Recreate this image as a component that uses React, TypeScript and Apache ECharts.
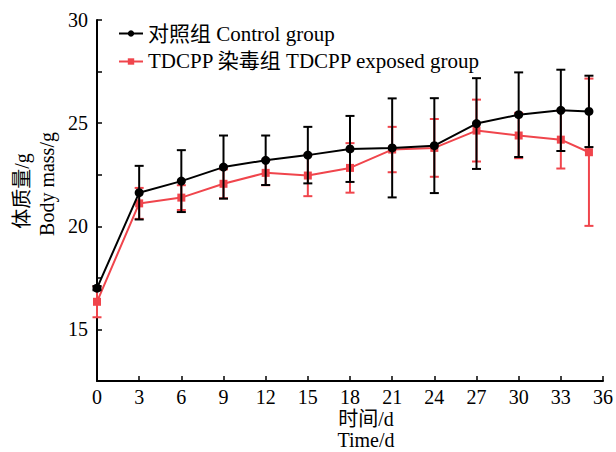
import React, { useEffect, useRef } from "react";
import * as echarts from "echarts";

const days = [0, 3, 6, 9, 12, 15, 18, 21, 24, 27, 30, 33, 35];
const controlMean = [17.0, 21.63, 22.19, 22.87, 23.2, 23.45, 23.75, 23.8, 23.91, 24.98, 25.41, 25.62, 25.57];
const controlSd = [0.1, 1.3, 1.5, 1.53, 1.2, 1.37, 1.6, 2.4, 2.3, 2.2, 2.05, 1.97, 1.73];
const exposedMean = [16.34, 21.11, 21.39, 22.06, 22.59, 22.46, 22.83, 23.72, 23.8, 24.64, 24.4, 24.2, 23.59];
const exposedSd = [0.75, 0.75, 0.6, 0.7, 0.6, 1.0, 1.2, 1.1, 1.4, 1.5, 1.1, 1.4, 3.57];
const xTicks = { min: 0, max: 36, interval: 3 };
const yTicks = { min: 12.5, max: 30, interval: 2.5 };

const BLACK = "#000000";
const RED = "#f0454c";
const FONT = "'Liberation Serif', 'Times New Roman', 'Noto Sans CJK SC', serif";

function errData(mean: number[], sd: number[]) {
  return days.map((d, i) => [d, mean[i] - sd[i], mean[i] + sd[i]]);
}

function errSeries(name: string, mean: number[], sd: number[], color: string, z: number) {
  return {
    type: "custom",
    name: name + "-err",
    z,
    silent: true,
    data: errData(mean, sd),
    encode: { x: 0, y: [1, 2] },
    renderItem: (params: any, api: any) => {
      const x = api.value(0);
      const lo = api.coord([x, api.value(1)]);
      const hi = api.coord([x, api.value(2)]);
      const hw = 4.5;
      const style = { stroke: color, lineWidth: 2 };
      return {
        type: "group",
        children: [
          { type: "line", shape: { x1: lo[0], y1: lo[1], x2: hi[0], y2: hi[1] }, style },
          { type: "line", shape: { x1: lo[0] - hw, y1: lo[1], x2: lo[0] + hw, y2: lo[1] }, style },
          { type: "line", shape: { x1: hi[0] - hw, y1: hi[1], x2: hi[0] + hw, y2: hi[1] }, style },
        ],
      };
    },
  };
}

function txt(text: string, x: number, y: number, rotation = 0) {
  return {
    type: "text",
    x,
    y,
    rotation,
    style: {
      text,
      fontFamily: FONT,
      fontSize: 20,
      fill: "#000",
      align: "center",
      verticalAlign: "middle",
    },
  };
}

export default function App() {
  const ref = useRef<HTMLDivElement>(null);
  useEffect(() => {
    if (!ref.current) return;
    const chart = echarts.init(ref.current, undefined, { renderer: "svg" });
    const controlName = "对照组 Control group";
    const exposedName = "TDCPP 染毒组 TDCPP exposed group";
    chart.setOption({
      animation: false,
      backgroundColor: "#ffffff",
      textStyle: { fontFamily: FONT },
      grid: { left: 97, right: 12, top: 20, bottom: 71 },
      legend: {
        orient: "vertical",
        left: 113,
        top: 18,
        itemGap: 7,
        itemWidth: 24,
        itemHeight: 8,
        data: [controlName, exposedName],
        textStyle: { fontFamily: FONT, fontSize: 21, color: "#000", padding: [0, 0, 0, 0] },
      },
      xAxis: {
        type: "value",
        min: xTicks.min,
        max: xTicks.max,
        interval: xTicks.interval,
        axisLine: { show: true, lineStyle: { color: "#000", width: 2 } },
        axisTick: { show: true, inside: true, length: 5, lineStyle: { color: "#000", width: 1.5 } },
        axisLabel: { color: "#000", fontSize: 20, fontFamily: FONT, margin: 6 },
        splitLine: { show: false },
      },
      yAxis: {
        type: "value",
        min: yTicks.min,
        max: yTicks.max,
        interval: yTicks.interval,
        axisLine: { show: true, lineStyle: { color: "#000", width: 2 } },
        axisTick: { show: true, inside: true, length: 5, lineStyle: { color: "#000", width: 1.5 } },
        axisLabel: {
          color: "#000",
          fontSize: 20,
          fontFamily: FONT,
          margin: 9,
          formatter: (v: number) => (Math.abs(v % 5) < 1e-6 ? String(v) : ""),
        },
        splitLine: { show: false },
      },
      graphic: [
        txt("体质量/g", 22, 191, Math.PI / 2),
        txt("Body mass/g", 47, 184, Math.PI / 2),
        txt("时间/d", 366, 419),
        txt("Time/d", 366, 440),
      ],
      series: [
        errSeries("exposed", exposedMean, exposedSd, RED, 2),
        {
          type: "line",
          name: exposedName,
          z: 3,
          data: days.map((d, i) => [d, exposedMean[i]]),
          symbol: "rect",
          symbolSize: 8,
          lineStyle: { color: RED, width: 2 },
          itemStyle: { color: RED },
        },
        errSeries("control", controlMean, controlSd, BLACK, 4),
        {
          type: "line",
          name: controlName,
          z: 5,
          data: days.map((d, i) => [d, controlMean[i]]),
          symbol: "circle",
          symbolSize: 9,
          lineStyle: { color: BLACK, width: 2 },
          itemStyle: { color: BLACK },
        },
      ],
    });
    return () => chart.dispose();
  }, []);
  return (
    <div
      ref={ref}
      style={{ position: "absolute", left: 0, top: 0, width: 616, height: 452 }}
    />
  );
}
